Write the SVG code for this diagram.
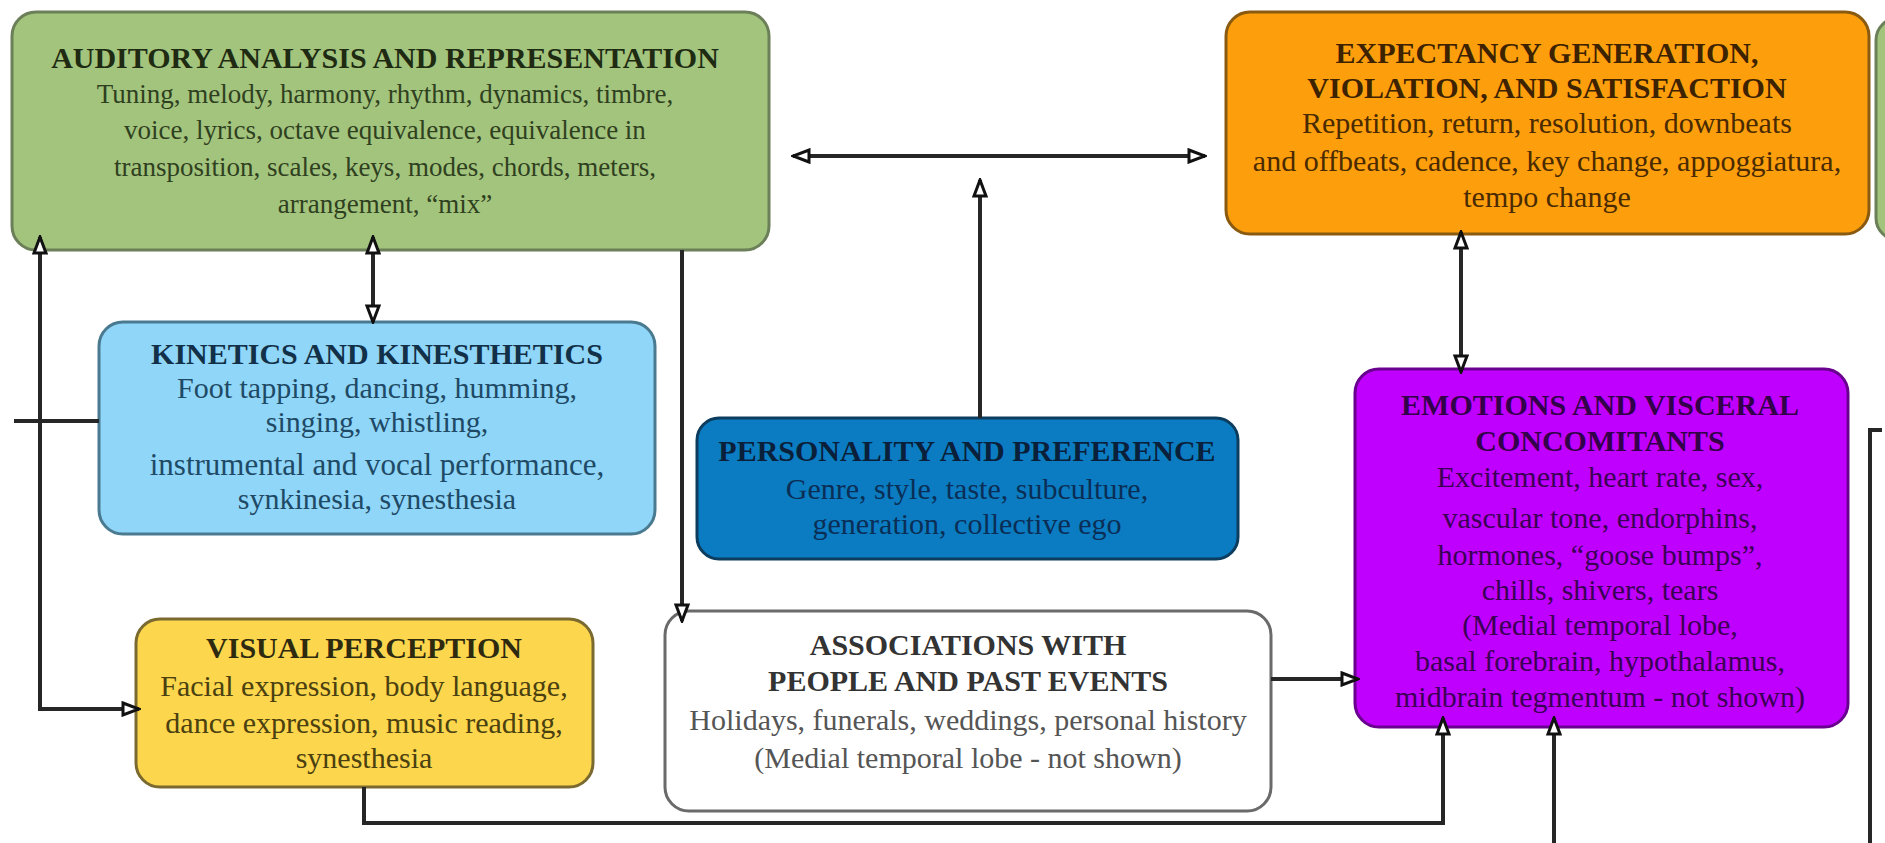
<svg xmlns="http://www.w3.org/2000/svg" width="1885" height="843" viewBox="0 0 1885 843">
<defs>
<style>
text{font-family:"Liberation Serif","Times New Roman",serif;text-anchor:middle}
.t{font-weight:bold;font-size:30px}
.b{font-size:30px}
.s{font-size:27px}
.box{stroke-width:3}
.con{fill:none;stroke:#262626;stroke-width:4}
</style>
<marker id="ar" viewBox="0 0 20 16" refX="18" refY="8" markerWidth="20" markerHeight="16" markerUnits="userSpaceOnUse" orient="auto-start-reverse">
<path d="M2,2 L18,8 L2,14 Z" fill="#fff" stroke="#111" stroke-width="3" stroke-linejoin="miter"/>
</marker>
</defs>
<rect width="1885" height="843" fill="#fff"/>
<g id="partial-right">
<rect x="1876" y="18" width="60" height="222" rx="22" fill="#a3c47d" stroke="#6b7f58" stroke-width="3"/>
</g>
<g id="auditory">
<rect class="box" x="12" y="12" width="757" height="238" rx="24" fill="#a3c47d" stroke="#6b7f58"/>
<text class="t" x="385" y="68" fill="#1e2b12">AUDITORY ANALYSIS AND REPRESENTATION</text>
<text class="s" x="385" y="103" fill="#2f4020">Tuning, melody, harmony, rhythm, dynamics, timbre,</text>
<text class="s" x="385" y="139" fill="#2f4020">voice, lyrics, octave equivalence, equivalence in</text>
<text class="s" x="385" y="176" fill="#2f4020">transposition, scales, keys, modes, chords, meters,</text>
<text class="s" x="385" y="213" fill="#2f4020">arrangement, “mix”</text>
</g>
<g id="expectancy">
<rect class="box" x="1226" y="12" width="643" height="222" rx="24" fill="#fd9f0d" stroke="#8a5a10"/>
<text class="t" x="1547" y="63" fill="#3d2200">EXPECTANCY GENERATION,</text>
<text class="t" x="1547" y="98" fill="#3d2200">VIOLATION, AND SATISFACTION</text>
<text class="b" x="1547" y="133" fill="#4a2a00">Repetition, return, resolution, downbeats</text>
<text class="b" x="1547" y="171" fill="#4a2a00">and offbeats, cadence, key change, appoggiatura,</text>
<text class="b" x="1547" y="207" fill="#4a2a00">tempo change</text>
</g>
<g id="kinetics">
<rect class="box" x="99" y="322" width="556" height="212" rx="24" fill="#8fd6f8" stroke="#4a7a90"/>
<text class="t" x="377" y="364" fill="#123048">KINETICS AND KINESTHETICS</text>
<text class="b" x="377" y="398" fill="#1f4a66">Foot tapping, dancing, humming,</text>
<text class="b" x="377" y="432" fill="#1f4a66">singing, whistling,</text>
<text class="b" x="377" y="475" fill="#1f4a66" style="font-size:31px">instrumental and vocal performance,</text>
<text class="b" x="377" y="509" fill="#1f4a66">synkinesia, synesthesia</text>
</g>
<g id="personality">
<rect class="box" x="697" y="418" width="541" height="141" rx="22" fill="#0b7cc2" stroke="#0c3d5e"/>
<text class="t" x="967" y="461" fill="#0a1f3a">PERSONALITY AND PREFERENCE</text>
<text class="b" x="967" y="499" fill="#0a2e55">Genre, style, taste, subculture,</text>
<text class="b" x="967" y="534" fill="#0a2e55">generation, collective ego</text>
</g>
<g id="emotions">
<rect class="box" x="1355" y="369" width="493" height="358" rx="24" fill="#bf00ff" stroke="#6a0090"/>
<text class="t" x="1600" y="415" fill="#33004a">EMOTIONS AND VISCERAL</text>
<text class="t" x="1600" y="451" fill="#33004a">CONCOMITANTS</text>
<text class="b" x="1600" y="487" fill="#3b0055">Excitement, heart rate, sex,</text>
<text class="b" x="1600" y="528" fill="#3b0055">vascular tone, endorphins,</text>
<text class="b" x="1600" y="565" fill="#3b0055">hormones, “goose bumps”,</text>
<text class="b" x="1600" y="600" fill="#3b0055">chills, shivers, tears</text>
<text class="b" x="1600" y="635" fill="#3b0055">(Medial temporal lobe,</text>
<text class="b" x="1600" y="671" fill="#3b0055">basal forebrain, hypothalamus,</text>
<text class="b" x="1600" y="707" fill="#3b0055">midbrain tegmentum - not shown)</text>
</g>
<g id="visual">
<rect class="box" x="136" y="619" width="457" height="168" rx="24" fill="#fcd64c" stroke="#7a6a30"/>
<text class="t" x="364" y="658" fill="#2e2a10">VISUAL PERCEPTION</text>
<text class="b" x="364" y="696" fill="#4a4010">Facial expression, body language,</text>
<text class="b" x="364" y="733" fill="#4a4010">dance expression, music reading,</text>
<text class="b" x="364" y="768" fill="#4a4010">synesthesia</text>
</g>
<g id="associations">
<rect class="box" x="665" y="611" width="606" height="200" rx="24" fill="#fff" stroke="#6a6a6a"/>
<text class="t" x="968" y="655" fill="#333">ASSOCIATIONS WITH</text>
<text class="t" x="968" y="691" fill="#333">PEOPLE AND PAST EVENTS</text>
<text class="b" x="968" y="730" fill="#555">Holidays, funerals, weddings, personal history</text>
<text class="b" x="968" y="768" fill="#555">(Medial temporal lobe - not shown)</text>
</g>
<g id="connectors">
<path class="con" d="M793,156 H1205" marker-start="url(#ar)" marker-end="url(#ar)"/>
<path class="con" d="M980,418 V180" marker-end="url(#ar)"/>
<path class="con" d="M373,237 V322" marker-start="url(#ar)" marker-end="url(#ar)"/>
<path class="con" d="M40,237 V709 H139" marker-start="url(#ar)" marker-end="url(#ar)"/>
<path class="con" d="M14,421 H99"/>
<path class="con" d="M682,250 V621" marker-end="url(#ar)"/>
<path class="con" d="M1271,679 H1358" marker-end="url(#ar)"/>
<path class="con" d="M364,787 V823 H1443 V718" marker-end="url(#ar)"/>
<path class="con" d="M1554,843 V718" marker-end="url(#ar)"/>
<path class="con" d="M1461,232 V372" marker-start="url(#ar)" marker-end="url(#ar)"/>
<path class="con" d="M1882,430 H1870 V843"/>
</g>
</svg>
